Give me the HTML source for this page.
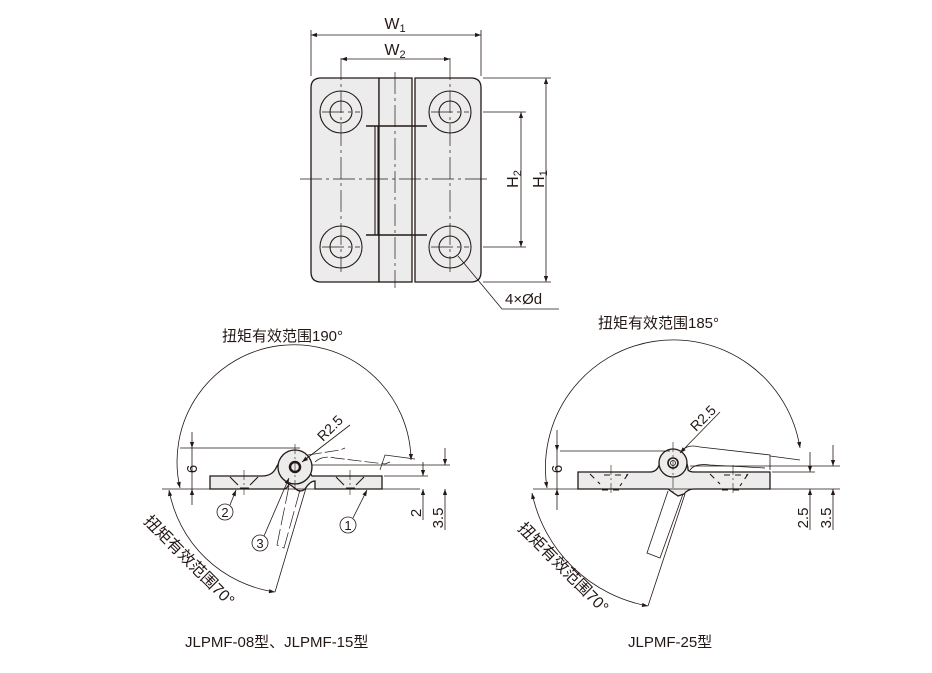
<!DOCTYPE html>
<html><head><meta charset="utf-8"><style>
html,body{margin:0;padding:0;background:#fff}
svg{display:block}
text{font-family:"Liberation Sans","Noto Sans CJK SC",sans-serif;fill:#231815}
</style></head><body>
<svg width="932" height="673" viewBox="0 0 932 673" xmlns="http://www.w3.org/2000/svg">
<defs>
<marker id="a" viewBox="0 0 10 10" refX="10" refY="5" markerWidth="9" markerHeight="6" orient="auto-start-reverse" markerUnits="userSpaceOnUse"><path d="M0,1.5 L10,5 L0,8.5z" fill="#231815"/></marker>
</defs>
<g stroke="#231815" fill="none" stroke-width="0.8">
<!-- TOP VIEW -->
<path d="M321,78 H379 V282 H321 Q311,282 311,272 V88 Q311,78 321,78Z" fill="#ececec" stroke-width="1.3"/>
<path d="M415,78 H471 Q481,78 481,88 V272 Q481,282 471,282 H415Z" fill="#ececec" stroke-width="1.3"/>
<rect x="379" y="78" width="33" height="204" fill="#ececec" stroke-width="1.3"/>
<line x1="366" y1="126" x2="427" y2="126" stroke-width="1.6"/>
<line x1="366" y1="235" x2="427" y2="235" stroke-width="1.6"/>
<line x1="375" y1="126" x2="375" y2="235" stroke-width="1.1"/>
<line x1="378" y1="126" x2="378" y2="235" stroke-width="1.1"/>
<g stroke-width="1.1">
<circle cx="341" cy="112" r="21"/><circle cx="341" cy="112" r="11"/>
<circle cx="450" cy="112" r="21"/><circle cx="450" cy="112" r="11"/>
<circle cx="341" cy="247" r="21"/><circle cx="341" cy="247" r="11"/>
<circle cx="450" cy="247" r="21"/><circle cx="450" cy="247" r="11"/>
</g>
<g stroke-dasharray="22,4,3,4" stroke-width="0.7">
<line x1="300" y1="179" x2="490" y2="179"/>
<line x1="341" y1="58" x2="341" y2="272"/>
<line x1="450" y1="58" x2="450" y2="272"/>
<line x1="395" y1="72" x2="395" y2="288"/>
<line x1="322" y1="112" x2="360" y2="112"/><line x1="431" y1="112" x2="469" y2="112"/>
<line x1="322" y1="247" x2="360" y2="247"/><line x1="431" y1="247" x2="469" y2="247"/>
</g>
<!-- dims -->
<line x1="311" y1="30" x2="311" y2="76"/><line x1="481" y1="30" x2="481" y2="76"/>
<line x1="311" y1="35" x2="481" y2="35" marker-start="url(#a)" marker-end="url(#a)"/>
<line x1="341" y1="59" x2="450" y2="59" marker-start="url(#a)" marker-end="url(#a)"/>
<line x1="483" y1="78" x2="551" y2="78"/><line x1="483" y1="282" x2="551" y2="282"/>
<line x1="483" y1="112" x2="526" y2="112"/><line x1="483" y1="247" x2="526" y2="247"/>
<line x1="521" y1="112" x2="521" y2="247" marker-start="url(#a)" marker-end="url(#a)"/>
<line x1="546" y1="78" x2="546" y2="282" marker-start="url(#a)" marker-end="url(#a)"/>
<polyline points="458,256 502,309 559,309"/>

<!-- LEFT BOTTOM -->
<path d="M210,476 H262 Q272,476 276,468 A17,17 0 0 1 308,470 L312,476 H382 V489 H315 V481 Q310,481 305,489 Q300,493 296,489 L289,484 Q287,489 284,489 H210Z" fill="#ececec" stroke-width="1.3"/>
<circle cx="295" cy="467" r="17" fill="#ececec" stroke-width="1.3"/>
<circle cx="295" cy="467" r="5" stroke-width="2.5"/>
<g stroke-width="1.1">
<path d="M230,477 L238,485 M258,477 L250,485 M240,488 H249"/>
<path d="M336,477 L344,485 M364,477 L356,485 M346,488 H355"/>
</g>
<g stroke-dasharray="10,3,2,3" stroke-width="0.6"><line x1="244" y1="470" x2="244" y2="495"/><line x1="350" y1="470" x2="350" y2="495"/><line x1="295" y1="444" x2="295" y2="490"/></g>
<path d="M308,455 L340,450 L345,448 M315,462 Q322,455 335,458 L385,464 L390,462" stroke-width="0.7" stroke-dasharray="14,3"/>
<path d="M380,470 L385,455 L415,459" stroke-width="0.7"/>
<path d="M289,486 L277,545 L284,548 L300,490" stroke-width="0.7" stroke-dasharray="18,4"/>
<line x1="306" y1="488" x2="275" y2="592"/>
<line x1="162" y1="489" x2="420" y2="489"/>
<line x1="180" y1="448" x2="300" y2="448"/>
<line x1="312" y1="465" x2="450" y2="465"/>
<line x1="384" y1="476" x2="428" y2="476"/>
<line x1="192" y1="432" x2="192" y2="448" marker-end="url(#a)"/><line x1="192" y1="505" x2="192" y2="489" marker-end="url(#a)"/>
<line x1="192" y1="448" x2="192" y2="489"/>
<line x1="423" y1="462" x2="423" y2="476" marker-end="url(#a)"/><line x1="423" y1="520" x2="423" y2="489" marker-end="url(#a)"/>
<line x1="445" y1="448" x2="445" y2="465" marker-end="url(#a)"/><line x1="445" y1="530" x2="445" y2="489" marker-end="url(#a)"/>
<line x1="350" y1="425" x2="302" y2="462" marker-end="url(#a)"/>
<path d="M180,488 A117,117 0 1 1 411,460" marker-start="url(#a)" marker-end="url(#a)"/>
<path d="M169,490 A126,126 0 0 0 275,592" marker-start="url(#a)" marker-end="url(#a)"/>
<circle cx="225" cy="512" r="8"/><line x1="230" y1="505" x2="236" y2="490" marker-end="url(#a)"/>
<circle cx="348" cy="525" r="8"/><line x1="353" y1="518" x2="367" y2="490" marker-end="url(#a)"/>
<circle cx="260" cy="543" r="8"/><line x1="264" y1="536" x2="289" y2="478" marker-end="url(#a)"/>

<!-- RIGHT BOTTOM -->
<path d="M578,472 H650 Q658,472 660,462 A15,15 0 0 1 688,470 Q690,472 694,472 H770 V489 H694 Q688,489 684,494 L678,496 Q672,492 668,489 H578Z" fill="#ececec" stroke-width="1.3"/>
<circle cx="673" cy="463" r="14" fill="#ececec" stroke-width="1.3"/>
<circle cx="673" cy="463" r="5" stroke-width="1.6"/><circle cx="673" cy="463" r="2.5" stroke-width="0.8"/>
<g stroke-width="1.1" stroke-dasharray="6,5">
<path d="M590,474 L600,484 M628,474 L620,486 M602,490 H622 M604,475 H628"/>
<path d="M710,474 L720,484 M748,474 L740,486 M722,490 H742 M724,475 H748"/>
</g>
<g stroke-dasharray="10,3,2,3" stroke-width="0.6"><line x1="611" y1="465" x2="611" y2="495"/><line x1="733" y1="465" x2="733" y2="495"/><line x1="673" y1="442" x2="673" y2="492"/></g>
<path d="M683,450 Q688,444 700,447 L770,455 V470 M690,470 Q695,463 710,465 L765,468" stroke-width="0.8"/>
<path d="M770,456 L800,460" stroke-width="0.7"/>
<path d="M668,491 L647,553 L660,558 L683,494" stroke-width="0.8"/>
<line x1="685" y1="494" x2="648" y2="606"/>
<line x1="533" y1="489" x2="840" y2="489"/>
<line x1="560" y1="451" x2="670" y2="451"/>
<line x1="690" y1="466" x2="840" y2="466"/>
<line x1="772" y1="472" x2="815" y2="472"/>
<line x1="557" y1="430" x2="557" y2="451" marker-end="url(#a)"/><line x1="557" y1="510" x2="557" y2="489" marker-end="url(#a)"/>
<line x1="557" y1="451" x2="557" y2="489"/>
<line x1="810" y1="452" x2="810" y2="472" marker-end="url(#a)"/><line x1="810" y1="530" x2="810" y2="489" marker-end="url(#a)"/>
<line x1="833" y1="445" x2="833" y2="466" marker-end="url(#a)"/><line x1="833" y1="530" x2="833" y2="489" marker-end="url(#a)"/>
<line x1="720" y1="412" x2="680" y2="453" marker-end="url(#a)"/>
<path d="M547,488 A127,127 0 1 1 800,448" marker-start="url(#a)" marker-end="url(#a)"/>
<path d="M532,493 A145,145 0 0 0 648,606" marker-start="url(#a)" marker-end="url(#a)"/>
</g>

<!-- TEXT -->
<text x="395" y="29" font-size="16" text-anchor="middle">W<tspan font-size="11" dy="3">1</tspan></text>
<text x="395" y="55" font-size="16" text-anchor="middle">W<tspan font-size="11" dy="3">2</tspan></text>
<text transform="translate(518,179) rotate(-90)" font-size="16" text-anchor="middle">H<tspan font-size="11" dy="3">2</tspan></text>
<text transform="translate(544,179) rotate(-90)" font-size="16" text-anchor="middle">H<tspan font-size="11" dy="3">1</tspan></text>
<text x="505" y="304" font-size="15">4×Ød</text>

<text x="222" y="341" font-size="15">扭矩有效范围190°</text>
<text x="598" y="328" font-size="15">扭矩有效范围185°</text>
<text transform="translate(323,442) rotate(-45)" font-size="14">R2.5</text>
<text transform="translate(696,432) rotate(-45)" font-size="14">R2.5</text>
<text transform="translate(197,469) rotate(-90)" font-size="15" text-anchor="middle">6</text>
<text transform="translate(562,469) rotate(-90)" font-size="15" text-anchor="middle">6</text>
<text transform="translate(421,513) rotate(-90)" font-size="15" text-anchor="middle">2</text>
<text transform="translate(443,518) rotate(-90)" font-size="15" text-anchor="middle">3.5</text>
<text transform="translate(808,518) rotate(-90)" font-size="15" text-anchor="middle">2.5</text>
<text transform="translate(831,518) rotate(-90)" font-size="15" text-anchor="middle">3.5</text>
<text x="225" y="517" font-size="13" text-anchor="middle">2</text>
<text x="348" y="530" font-size="13" text-anchor="middle">1</text>
<text x="260" y="548" font-size="13" text-anchor="middle">3</text>
<text transform="translate(143,522) rotate(45)" font-size="16">扭矩有效范围70°</text>
<text transform="translate(517,529) rotate(45)" font-size="16">扭矩有效范围70°</text>
<text x="185" y="647" font-size="15">JLPMF-08型、JLPMF-15型</text>
<text x="628" y="647" font-size="15">JLPMF-25型</text>
</svg>
</body></html>
